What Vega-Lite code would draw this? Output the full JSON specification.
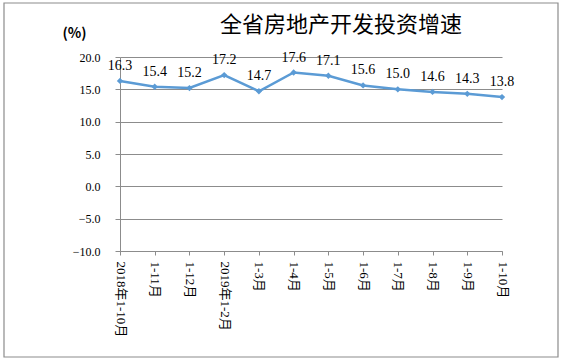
{
  "$schema": "https://vega.github.io/schema/vega-lite/v6.json",
  "width": 382,
  "height": 194,
  "autosize": {"type": "none"},
  "padding": {"left": 120, "top": 57, "right": 63, "bottom": 111},
  "background": "white",
  "title": {
    "text": "全省房地产开发投资增速",
    "anchor": "start",
    "frame": "group",
    "dx": 100,
    "offset": -35,
    "font": "Noto Sans CJK SC",
    "fontSize": 22,
    "fontWeight": "normal",
    "color": "#000000"
  },
  "config": {
    "view": {"stroke": null},
    "axis": {
      "domainColor": "#8c8c8c",
      "tickColor": "#8c8c8c",
      "gridColor": "#8c8c8c",
      "labelColor": "#000000"
    }
  },
  "data": {
    "values": [
      {"period": "2018年1-10月", "value": 16.3},
      {"period": "1-11月", "value": 15.4},
      {"period": "1-12月", "value": 15.2},
      {"period": "2019年1-2月", "value": 17.2},
      {"period": "1-3月", "value": 14.7},
      {"period": "1-4月", "value": 17.6},
      {"period": "1-5月", "value": 17.1},
      {"period": "1-6月", "value": 15.6},
      {"period": "1-7月", "value": 15.0},
      {"period": "1-8月", "value": 14.6},
      {"period": "1-9月", "value": 14.3},
      {"period": "1-10月", "value": 13.8}
    ]
  },
  "encoding": {
    "x": {
      "field": "period",
      "type": "ordinal",
      "sort": null,
      "scale": {"type": "point", "padding": 0},
      "axis": {
        "title": null,
        "labelAngle": 90,
        "labelAlign": "left",
        "labelBaseline": "middle",
        "labelFont": "Liberation Serif, Noto Sans CJK SC",
        "labelFontSize": 13,
        "labelPadding": 6,
        "tickSize": 4,
        "grid": false,
        "domainColor": "#8c8c8c"
      }
    },
    "y": {
      "field": "value",
      "type": "quantitative",
      "scale": {"domain": [-10, 20], "nice": false, "zero": false},
      "axis": {
        "values": [-10, -5, 0, 5, 10, 15, 20],
        "format": ".1f",
        "grid": true,
        "tickSize": 5,
        "labelPadding": 15,
        "labelFont": "Liberation Serif",
        "labelFontSize": 12,
        "title": "(%)",
        "titleAngle": 0,
        "titleAlign": "left",
        "titleBaseline": "alphabetic",
        "titleX": -58,
        "titleY": -20,
        "titleFont": "Noto Sans CJK SC",
        "titleFontSize": 14,
        "titleFontWeight": "bold",
        "titleColor": "#000000"
      }
    }
  },
  "layer": [
    {
      "mark": {
        "type": "line",
        "color": "#5b9bd5",
        "strokeWidth": 2.5,
        "point": {"shape": "diamond", "size": 40, "filled": true, "color": "#5b9bd5"}
      }
    },
    {
      "mark": {
        "type": "text",
        "baseline": "alphabetic",
        "dy": -11,
        "font": "Liberation Serif",
        "fontSize": 14,
        "color": "#000000"
      },
      "encoding": {
        "text": {"field": "value", "type": "quantitative", "format": ".1f"}
      }
    },
    {
      "data": {"values": [{"frame": 1}]},
      "mark": {"type": "rect", "fill": null, "stroke": "#8c8c8c", "strokeWidth": 1.2},
      "encoding": {
        "x": {"value": -116},
        "x2": {"value": 438},
        "y": {"value": -54},
        "y2": {"value": 300}
      }
    }
  ]
}
